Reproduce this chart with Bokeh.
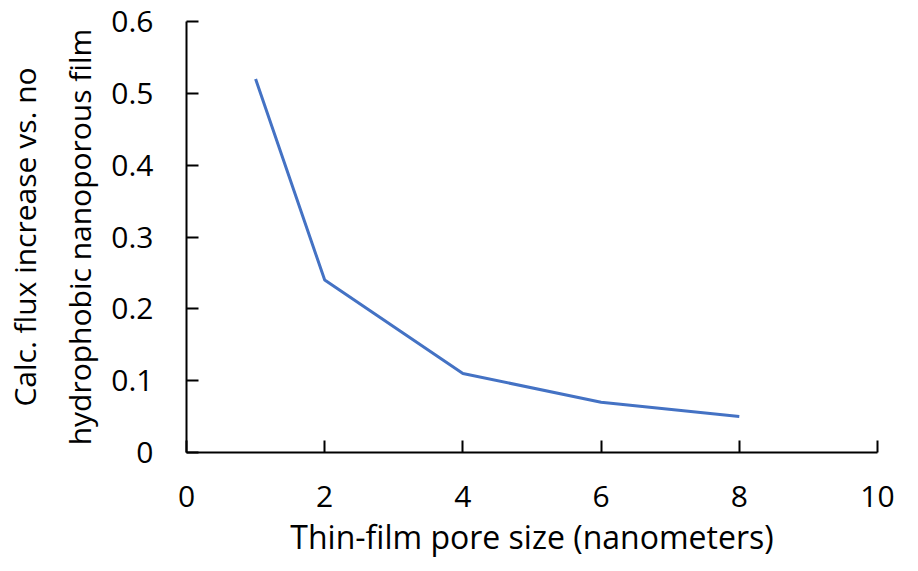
from bokeh.plotting import figure
from bokeh.models import Range1d, FixedTicker
from bokeh.embed import file_html
from bokeh.resources import INLINE

# Data
pore_size = [1, 2, 4, 6, 8]
flux_increase = [0.52, 0.24, 0.11, 0.07, 0.05]

x_ticks = [0, 2, 4, 6, 8, 10]
y_ticks = [0, 0.1, 0.2, 0.3, 0.4, 0.5, 0.6]
y_tick_labels = ["0", "0.1", "0.2", "0.3", "0.4", "0.5", "0.6"]

x_label = "Thin-film pore size (nanometers)"
y_label = "Calc. flux increase vs. no\nhydrophobic nanoporous film"

FONT = "Open Sans"

p = figure(width=902, height=562, output_backend="svg", toolbar_location=None,
           x_range=Range1d(0, 10), y_range=Range1d(0, 0.6),
           min_border_left=174, min_border_right=25,
           min_border_top=21, min_border_bottom=110)
p.outline_line_color = None
p.grid.visible = False
p.background_fill_color = "white"
p.border_fill_color = "white"

p.line(pore_size, flux_increase, line_color="#4472C4", line_width=3)

for ax in (p.xaxis[0], p.yaxis[0]):
    ax.axis_line_color = "black"
    ax.axis_line_width = 2
    ax.major_tick_line_color = "black"
    ax.major_tick_line_width = 2
    ax.major_tick_in = 12
    ax.major_tick_out = 0
    ax.minor_tick_line_color = None
    ax.major_label_text_font = FONT
    ax.major_label_text_font_size = "30px"
    ax.major_label_text_color = "black"
    ax.axis_label_text_font = FONT
    ax.axis_label_text_font_style = "normal"
    ax.axis_label_text_color = "black"

p.xaxis[0].ticker = FixedTicker(ticks=x_ticks)
p.yaxis[0].ticker = FixedTicker(ticks=y_ticks)
p.yaxis[0].major_label_overrides = {t: l for t, l in zip(y_ticks, y_tick_labels)}

p.xaxis[0].axis_label = x_label
p.xaxis[0].axis_label_text_font_size = "32px"
p.yaxis[0].axis_label = y_label
p.yaxis[0].axis_label_text_font_size = "30px"
p.yaxis[0].axis_label_text_line_height = 1.35

p.xaxis[0].major_label_standoff = 33
p.yaxis[0].major_label_standoff = 33
p.xaxis[0].axis_label_standoff = 5
p.yaxis[0].axis_label_standoff = 8

open("out.html", "w").write(file_html(p, INLINE))
